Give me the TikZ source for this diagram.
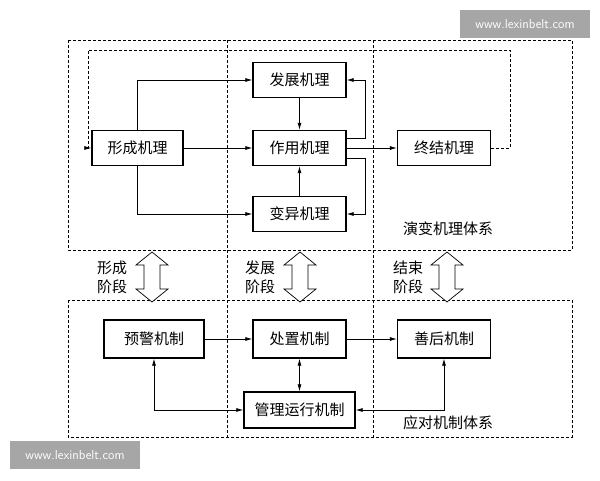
\documentclass[tikz,border=0pt]{standalone}
\usepackage{fontspec}
\newfontfamily\cjk{Noto Sans CJK SC}
\usetikzlibrary{arrows.meta}
\begin{document}
\begin{tikzpicture}[x=1pt,y=-1pt,
  box/.style={draw,line width=1.4pt,minimum width=93pt,minimum height=35pt,inner sep=0pt,font=\cjk\fontsize{15}{15}\selectfont},
  lbl/.style={font=\cjk\fontsize{15}{19}\selectfont,align=left},
  ln/.style={line width=0.7pt},
  ar/.style={ln,-{Latex[length=7pt,width=4pt]}},
  dar/.style={ln,{Latex[length=7pt,width=4pt]}-{Latex[length=7pt,width=4pt]}},
  dsh/.style={dashed,line width=0.6pt,dash pattern=on 3pt off 2pt},
  wm/.style={fill=gray!70,text=white,font=\sffamily\fontsize{13}{13}\selectfont,minimum width=130pt,minimum height=28pt}]
\useasboundingbox (0,0) rectangle (600,480);
% frames
\draw[dsh] (68,40) rectangle (572,250);
\draw[dsh] (68,300) rectangle (572,437);
\draw[dsh] (227,40) -- (227,437);
\draw[dsh] (373,40) -- (373,437);
% nodes
\node[box] (fz) at (299.5,80) {发展机理};
\node[box] (zy) at (299.5,148) {作用机理};
\node[box] (by) at (299.5,214) {变异机理};
\node[box,minimum width=91pt] (xc) at (137.5,148) {形成机理};
\node[box] (zj) at (444,148) {终结机理};
\node[box,minimum width=100pt,minimum height=38pt] (yj) at (154,339) {预警机制};
\node[box,minimum height=38pt] (cz) at (299.5,339) {处置机制};
\node[box,minimum height=38pt] (sh) at (444,339) {善后机制};
\node[box,minimum width=111pt,minimum height=36pt] (gl) at (299.5,410) {管理运行机制};
% top connectors
\draw[ar] (xc) -- (zy);
\draw[ar] (xc.north) |- (fz.west);
\draw[ar] (xc.south) |- (by.west);
\draw[ar] (fz) -- (zy);
\draw[ar] (by) -- (zy);
\draw[ar] (zy) -- (zj);
\coordinate (r1) at (zy.east |- 0,138);
\coordinate (r2) at (zy.east |- 0,158);
\draw[ar] (r1) -- (365,138) |- (fz.east);
\draw[ar] (r2) -- (365,158) |- (by.east);
\draw[dsh,-{Latex[length=7pt,width=4pt]}] (zj.east) -- (510,148) -- (510,50) -- (88,50) -- (88,148) -- (xc.west);
% bottom connectors
\draw[ar] (yj) -- (cz);
\draw[ar] (cz) -- (sh);
\draw[dar] (cz) -- (gl);
\draw[dar] (yj.south) |- (gl.west);
\draw[dar] (sh.south) |- (gl.east);
% hollow arrows
\foreach \cx in {152,300,447}{
  \draw[line width=0.7pt,fill=white] (\cx,252) -- (\cx+16,265) -- (\cx+8,265) -- (\cx+8,289) -- (\cx+16,289) -- (\cx,302) -- (\cx-16,289) -- (\cx-8,289) -- (\cx-8,265) -- (\cx-16,265) -- cycle;
}
\node[lbl] (l1) at (112,277) {形成\\阶段};
\node[lbl] (l2) at (260,277) {发展\\阶段};
\node[lbl] (l3) at (408,277) {结束\\阶段};
\node[lbl] (s1) at (448,229) {演变机理体系};
\node[lbl] (s2) at (448,423) {应对机制体系};
\node[wm] (w1) at (525,24) {www.lexinbelt.com};
\node[wm] (w2) at (75,455) {www.lexinbelt.com};
\end{tikzpicture}
\end{document}
